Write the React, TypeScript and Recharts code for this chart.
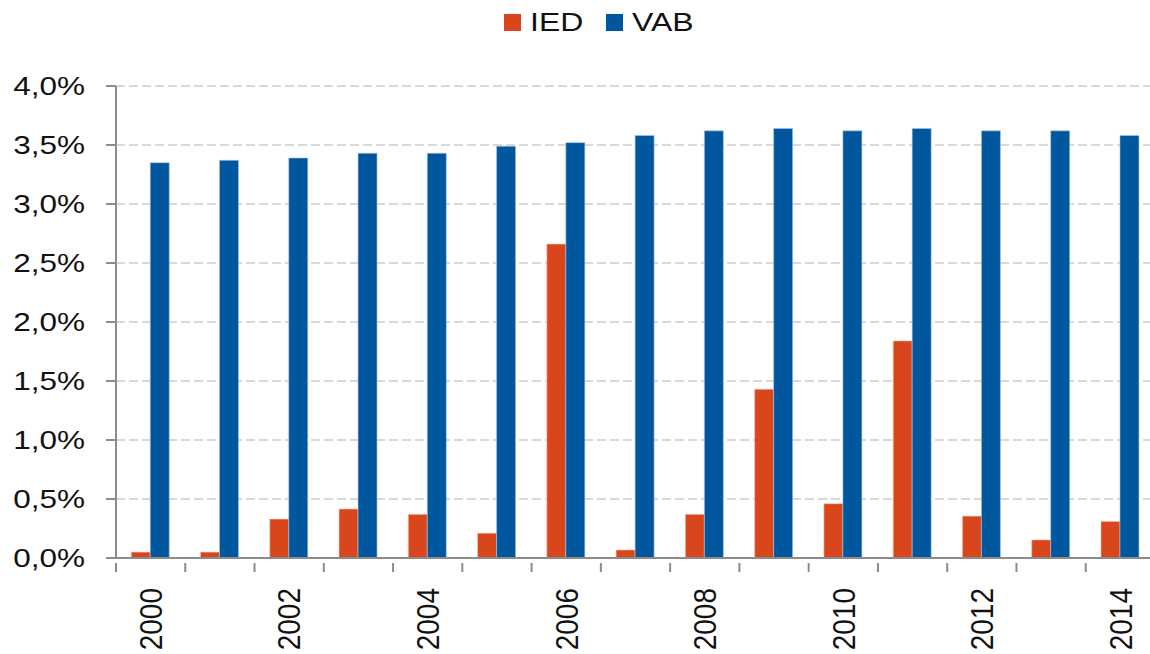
import React from "react";
import { Bar, BarChart, CartesianGrid, Legend, XAxis, YAxis } from "recharts";

const years = ["2000", "2001", "2002", "2003", "2004", "2005", "2006", "2007", "2008", "2009", "2010", "2011", "2012", "2013", "2014"];
const ied = [0.05, 0.05, 0.33, 0.415, 0.37, 0.21, 2.66, 0.068, 0.37, 1.43, 0.46, 1.84, 0.355, 0.153, 0.31];
const vab = [3.35, 3.37, 3.39, 3.43, 3.43, 3.49, 3.52, 3.58, 3.62, 3.64, 3.62, 3.64, 3.62, 3.62, 3.58];
const yTicks = [0, 0.5, 1, 1.5, 2, 2.5, 3, 3.5, 4];
const labeledYears = ["2000", "2002", "2004", "2006", "2008", "2010", "2012", "2014"];

const data = years.map((year, i) => ({ year, IED: ied[i], VAB: vab[i] }));

const ORANGE = "#d9461b";
const BLUE = "#00579e";
const AXIS = "#8c8c8c";
const FONT = "'Liberation Sans', Arial, sans-serif";

const fmt = (v: number) => v.toFixed(1).replace(".", ",") + "%";

function YTick(props: any) {
  const { x, y, payload } = props;
  return (
    <text transform={`translate(${x},${y}) scale(1.26,1)`} textAnchor="end" dy="0.36em" fontSize={25} fontFamily={FONT} fill="#111">
      {fmt(payload.value)}
    </text>
  );
}

function XTick(props: any) {
  const { x, y, payload, width, visibleTicksCount, index } = props;
  const half = width / visibleTicksCount / 2;
  const axisY = y - 3;
  return (
    <g>
      <line x1={x - half} x2={x - half} y1={axisY} y2={axisY + 9} stroke={AXIS} strokeWidth={2} />
      {index === visibleTicksCount - 1 && <line x1={x + half} x2={x + half} y1={axisY} y2={axisY + 9} stroke={AXIS} strokeWidth={2} />}
      {labeledYears.includes(payload.value) && (
        <text transform={`translate(${x},${axisY + 25}) rotate(-90) scale(1,1.12)`} textAnchor="end" dy="0.36em" fontSize={28} fontFamily={FONT} fill="#111">
          {payload.value}
        </text>
      )}
    </g>
  );
}

function LegendContent() {
  const items = [
    { name: "IED", color: ORANGE, gap: 23 },
    { name: "VAB", color: BLUE, gap: 0 },
  ];
  return (
    <div style={{ height: 44, display: "flex", alignItems: "center", paddingLeft: 504, fontFamily: FONT, fontSize: 25, color: "#111" }}>
      {items.map((it) => (
        <div key={it.name} style={{ display: "flex", alignItems: "center", marginRight: it.gap }}>
          <span style={{ width: 17, height: 17, background: it.color, display: "inline-block", marginRight: 9 }} />
          <span style={{ display: "inline-block", transform: "scaleX(1.28)", transformOrigin: "left center", marginRight: it.name === "IED" ? 11 : 0 }}>{it.name}</span>
        </div>
      ))}
    </div>
  );
}

export default function App() {
  return (
    <div style={{ position: "absolute", left: 0, top: 0, width: 1150, height: 654, overflow: "hidden", background: "#fff" }}>
      <BarChart width={1160} height={654} data={data} margin={{ top: 42, right: 5, bottom: 0, left: 0 }} barGap={0} barCategoryGap="22%">
        <Legend verticalAlign="top" align="left" content={<LegendContent />} wrapperStyle={{ top: 0, left: 0, width: 1160 }} />
        <CartesianGrid vertical={false} stroke="#d9d9d9" strokeDasharray="9 4" strokeWidth={2} />
        <XAxis dataKey="year" interval={0} height={96} tickLine={false} axisLine={{ stroke: AXIS, strokeWidth: 2 }} tick={<XTick />} />
        <YAxis domain={[0, 4]} ticks={yTicks} interval={0} width={116} tickSize={10} tickMargin={21} tickLine={{ stroke: AXIS, strokeWidth: 2 }} axisLine={{ stroke: AXIS, strokeWidth: 2 }} tick={<YTick />} />
        <Bar dataKey="IED" fill={ORANGE} stroke="#f3c3b3" strokeWidth={0.6} isAnimationActive={false} />
        <Bar dataKey="VAB" fill={BLUE} stroke="#a9c6e2" strokeWidth={0.6} isAnimationActive={false} />
      </BarChart>
    </div>
  );
}
